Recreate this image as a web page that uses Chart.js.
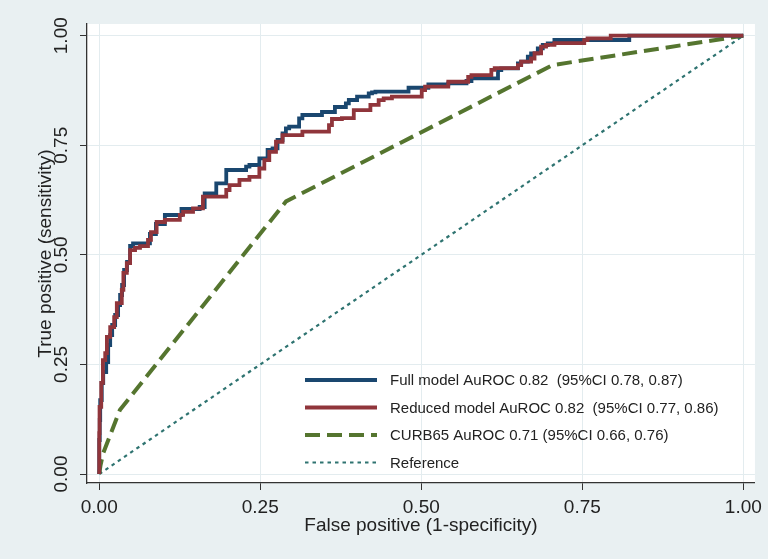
<!DOCTYPE html>
<html>
<head>
<meta charset="utf-8">
<script src="https://cdn.jsdelivr.net/npm/chart.js@4.4.1/dist/chart.umd.min.js"></script>
<style>
  html, body { margin: 0; padding: 0; background: #e9f0f2; }
  #rocChart { display: block; }
</style>
</head>
<body>
<canvas id="rocChart" width="768" height="559"></canvas>
<script>
// tick values / labels shared by both axes
const tickValues = [0, 0.25, 0.5, 0.75, 1];
const tickLabels = ['0.00', '0.25', '0.50', '0.75', '1.00'];

const seriesLabels = [
    'Full model AuROC 0.82  (95%CI 0.78, 0.87)',
    'Reduced model AuROC 0.82  (95%CI 0.77, 0.86)',
    'CURB65 AuROC 0.71 (95%CI 0.66, 0.76)',
    'Reference'
];

// Full model
const fullFpr = [0, 0.0008, 0.0015, 0.0039, 0.0062, 0.0108, 0.0139, 0.0170, 0.0201, 0.0247, 0.0293, 0.0324, 0.0355, 0.0386, 0.0432, 0.0479, 0.0525, 0.0679, 0.0787, 0.0880, 0.1019, 0.1277, 0.1559, 0.1637, 0.1817, 0.1868, 0.1972, 0.2177, 0.2280, 0.2332, 0.2486, 0.2537, 0.2614, 0.2691, 0.2768, 0.2846, 0.2898, 0.2949, 0.3103, 0.3154, 0.3258, 0.3458, 0.3659, 0.3721, 0.3829, 0.3875, 0.4003, 0.4081, 0.4184, 0.4235, 0.4288, 0.4802, 0.4828, 0.5110, 0.5161, 0.5419, 0.5702, 0.5779, 0.6191, 0.6242, 0.6500, 0.6551, 0.6654, 0.6705, 0.6809, 0.6886, 0.6963, 0.7067, 0.7144, 0.8229, 0.8260, 1];
const fullTpr = [0, 0.0776, 0.1232, 0.1688, 0.2076, 0.2327, 0.2555, 0.2943, 0.3171, 0.3400, 0.3628, 0.3856, 0.4084, 0.4312, 0.4654, 0.4837, 0.5202, 0.5264, 0.5264, 0.5476, 0.5704, 0.5909, 0.6046, 0.6092, 0.6404, 0.6632, 0.6632, 0.6936, 0.6936, 0.7011, 0.7050, 0.7203, 0.7203, 0.7392, 0.7431, 0.7620, 0.7773, 0.7887, 0.7924, 0.8115, 0.8191, 0.8191, 0.8259, 0.8373, 0.8373, 0.8458, 0.8533, 0.8608, 0.8608, 0.8686, 0.8709, 0.8722, 0.8813, 0.8813, 0.8891, 0.8891, 0.8914, 0.8966, 0.9028, 0.9217, 0.9256, 0.9370, 0.9407, 0.9521, 0.9598, 0.9712, 0.9788, 0.9827, 0.9902, 0.9902, 1, 1];

// Reduced model
const reducedFpr = [0, 0.0005, 0.0031, 0.0057, 0.0093, 0.0119, 0.0170, 0.0232, 0.0273, 0.0350, 0.0375, 0.0428, 0.0479, 0.0556, 0.0633, 0.0757, 0.0803, 0.0891, 0.1019, 0.1251, 0.1302, 0.1456, 0.1610, 0.1663, 0.1972, 0.2023, 0.2177, 0.2332, 0.2486, 0.2563, 0.2640, 0.2744, 0.2846, 0.2898, 0.3154, 0.3207, 0.3567, 0.3613, 0.3767, 0.3952, 0.4210, 0.4338, 0.4416, 0.4544, 0.5007, 0.5059, 0.5419, 0.5728, 0.5779, 0.6088, 0.6140, 0.6500, 0.6551, 0.6705, 0.6758, 0.6860, 0.6937, 0.7067, 0.7530, 0.7581, 0.7941, 0.7993, 1];
const reducedTpr = [0, 0.0935, 0.153, 0.208, 0.260, 0.276, 0.313, 0.335, 0.358, 0.390, 0.420, 0.459, 0.481, 0.511, 0.516, 0.520, 0.534, 0.552, 0.575, 0.580, 0.591, 0.598, 0.606, 0.633, 0.633, 0.648, 0.659, 0.671, 0.678, 0.697, 0.716, 0.735, 0.758, 0.773, 0.773, 0.781, 0.781, 0.796, 0.810, 0.812, 0.830, 0.842, 0.853, 0.857, 0.861, 0.876, 0.884, 0.895, 0.906, 0.910, 0.922, 0.926, 0.933, 0.941, 0.948, 0.960, 0.975, 0.979, 0.983, 0.990, 0.994, 1, 1];

// CURB65
const curbFpr = [0, 0.002, 0.006, 0.032, 0.290, 0.704, 1];
const curbTpr = [0, 0.020, 0.047, 0.146, 0.622, 0.933, 1];

// Reference diagonal
const refFpr = [0, 1];
const refTpr = [0, 1];

function toPoints(xs, ys) {
    return xs.map((x, i) => ({ x: x, y: ys[i] }));
}

const FONT = "'Liberation Sans', Arial, sans-serif";
const TEXT = '#222222';

// white plot region
const plotBackground = {
    id: 'plotBackground',
    beforeDraw(chart) {
        const { ctx, chartArea: a } = chart;
        ctx.save();
        ctx.fillStyle = '#ffffff';
        ctx.fillRect(a.left, a.top, a.right - a.left, a.bottom - a.top);
        ctx.restore();
    }
};

// Stata style legend inside the plot, no box
const insideLegend = {
    id: 'insideLegend',
    afterDatasetsDraw(chart) {
        const ctx = chart.ctx;
        const x0 = 305, x1 = 377, tx = 390;
        const rowY = [380, 407.5, 435, 462.5];
        ctx.save();
        ctx.font = '15px ' + FONT;
        ctx.textBaseline = 'middle';
        ctx.fillStyle = TEXT;
        chart.data.datasets.forEach((ds, i) => {
            ctx.save();
            ctx.strokeStyle = ds.borderColor;
            ctx.lineWidth = ds.borderWidth;
            ctx.setLineDash(ds.borderDash || []);
            ctx.beginPath();
            ctx.moveTo(x0, rowY[i]);
            ctx.lineTo(x1, rowY[i]);
            ctx.stroke();
            ctx.restore();
            ctx.fillText(ds.label, tx, rowY[i] + 1);
        });
        ctx.restore();
    }
};

const ctx = document.getElementById('rocChart').getContext('2d');
const rocChart = new Chart(ctx, {
    type: 'line',
    data: {
        datasets: [
            {
                label: seriesLabels[0],
                data: toPoints(fullFpr, fullTpr),
                borderColor: '#1a476f',
                borderWidth: 3.8,
                stepped: 'after',
                order: 2
            },
            {
                label: seriesLabels[1],
                data: toPoints(reducedFpr, reducedTpr),
                borderColor: '#90353b',
                borderWidth: 3.8,
                stepped: 'after',
                order: 1
            },
            {
                label: seriesLabels[2],
                data: toPoints(curbFpr, curbTpr),
                borderColor: '#55752f',
                borderWidth: 4,
                borderDash: [15, 7],
                order: 3
            },
            {
                label: seriesLabels[3],
                data: toPoints(refFpr, refTpr),
                borderColor: '#2e7370',
                borderWidth: 2.2,
                borderDash: [3.5, 4],
                order: 4
            }
        ]
    },
    options: {
        responsive: false,
        animation: false,
        layout: {
            padding: { top: 24, right: 10, left: 0, bottom: 0 }
        },
        elements: {
            point: { radius: 0 },
            line: { tension: 0, fill: false }
        },
        scales: {
            x: {
                type: 'linear',
                min: -0.019,
                max: 1.018,
                afterBuildTicks: (scale) => { scale.ticks = tickValues.map(v => ({ value: v })); },
                afterFit: (scale) => { scale.height = 76; },
                grid: {
                    color: '#e3ecef',
                    tickColor: '#333333',
                    tickLength: 7,
                    lineWidth: 1
                },
                border: { display: true, color: '#333333', width: 1.3 },
                ticks: {
                    padding: 6,
                    color: TEXT,
                    maxRotation: 0,
                    font: { family: FONT, size: 19 },
                    callback: (value) => tickLabels[tickValues.indexOf(value)]
                },
                title: {
                    display: true,
                    text: 'False positive (1-specificity)',
                    color: TEXT,
                    font: { family: FONT, size: 19 },
                    padding: { top: 0, bottom: 22 }
                }
            },
            y: {
                type: 'linear',
                min: -0.0205,
                max: 1.0267,
                afterBuildTicks: (scale) => { scale.ticks = tickValues.map(v => ({ value: v })); },
                afterFit: (scale) => { scale.width = 87; },
                grid: {
                    color: '#e3ecef',
                    tickColor: '#333333',
                    tickLength: 7,
                    lineWidth: 1
                },
                border: { display: true, color: '#333333', width: 1.3 },
                ticks: {
                    padding: 0,
                    color: TEXT,
                    minRotation: 90,
                    maxRotation: 90,
                    crossAlign: 'center',
                    font: { family: FONT, size: 19 },
                    callback: (value) => tickLabels[tickValues.indexOf(value)]
                },
                title: {
                    display: true,
                    text: 'True positive (sensitivity)',
                    color: TEXT,
                    font: { family: FONT, size: 19 },
                    padding: { top: 34, bottom: 0 }
                }
            }
        },
        plugins: {
            legend: { display: false },
            tooltip: { enabled: false }
        }
    },
    plugins: [plotBackground, insideLegend]
});
</script>
</body>
</html>
